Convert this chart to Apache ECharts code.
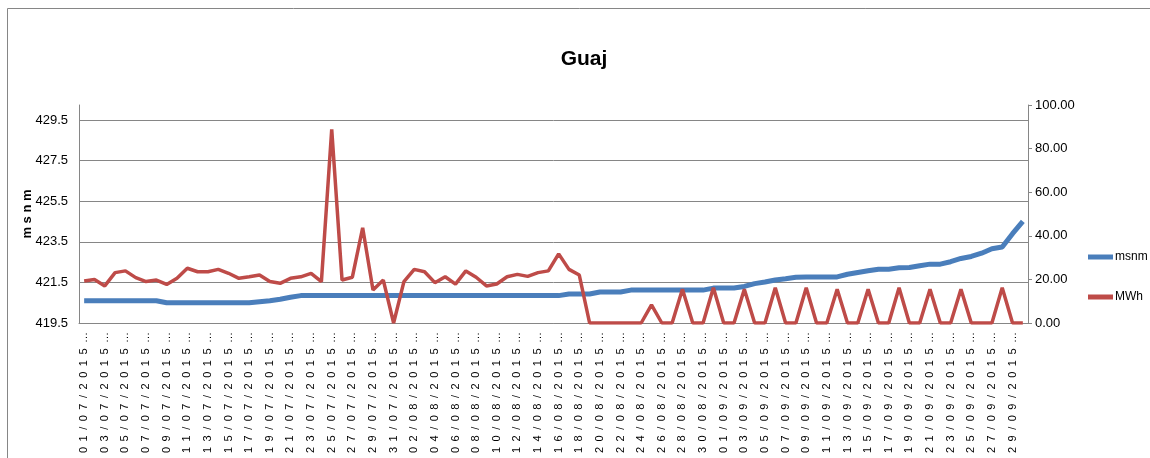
<!DOCTYPE html>
<html>
<head>
<meta charset="utf-8">
<script src="https://cdn.jsdelivr.net/npm/echarts@6/dist/echarts.min.js"></script>
<style>
html,body{margin:0;padding:0;background:#fff;}
#chart{width:1150px;height:458px;}
</style>
</head>
<body>
<div id="chart"></div>
<script>
// ---- data ----
const titleText = 'Guaj';
const seriesNames = ['msnm', 'MWh'];

function buildDates() {
  const out = [];
  const months = [[7, 31], [8, 31], [9, 30]];
  for (const [m, n] of months) {
    for (let d = 1; d <= n; d++) {
      out.push(String(d).padStart(2, '0') + '/' + String(m).padStart(2, '0') + '/2015');
    }
  }
  return out;
}
const categories = buildDates();

const msnm = [
  420.6, 420.6, 420.6, 420.6, 420.6, 420.6, 420.6, 420.6,
  420.5, 420.5, 420.5, 420.5, 420.5, 420.5, 420.5, 420.5, 420.5,
  420.55, 420.6, 420.67, 420.77,
  420.85, 420.85, 420.85, 420.85, 420.85, 420.85, 420.85, 420.85, 420.85, 420.85,
  420.85, 420.85, 420.85, 420.85, 420.85, 420.85, 420.85, 420.85, 420.85, 420.85,
  420.85, 420.85, 420.85, 420.85, 420.85, 420.85,
  420.93, 420.93, 420.93,
  421.03, 421.03, 421.03,
  421.12, 421.12, 421.12, 421.12, 421.12, 421.12, 421.12, 421.12,
  421.22, 421.22, 421.22,
  421.3, 421.44, 421.52, 421.62, 421.68, 421.75,
  421.77, 421.77, 421.77, 421.77,
  421.9, 421.99, 422.07, 422.15, 422.15, 422.22, 422.23, 422.32, 422.4, 422.4,
  422.52, 422.68, 422.78, 422.94, 423.16, 423.24, 423.9, 424.51
];

const mwh = [
  19.3, 20.0, 17.0, 23.1, 23.9, 20.8, 19.0, 19.7, 17.7, 20.5,
  25.1, 23.5, 23.5, 24.6, 22.8, 20.5, 21.2, 22.0, 19.0, 18.2,
  20.5, 21.2, 22.8, 19.0, 88.8, 19.7, 21.0, 43.7, 15.1, 19.7,
  0, 19.0, 24.6, 23.5, 18.5, 21.2, 17.8, 23.9, 21.0, 17.0,
  17.9, 21.2, 22.3, 21.4, 23.1, 23.9, 31.7, 24.6, 22.0, 0,
  0, 0, 0, 0, 0, 8.3, 0, 0, 15.5, 0,
  0, 16.2, 0, 0, 15.5, 0, 0, 16.2, 0, 0,
  16.2, 0, 0, 15.5, 0, 0, 15.5, 0, 0, 16.2,
  0, 0, 15.5, 0, 0, 15.5, 0, 0, 0, 16.2,
  0, 0
];

const leftTicks = [419.5, 421.5, 423.5, 425.5, 427.5, 429.5];
const leftMin = 419.5, leftMax = 430.24;
const rightMin = 0, rightMax = 100;

// ---- chart ----
const GRID = '#868686';
const FONT = '"Liberation Sans", Arial, sans-serif';
const chart = echarts.init(document.getElementById('chart'), null, {renderer: 'canvas'});

const option = {
  animation: false,
  backgroundColor: '#fff',
  title: {
    text: titleText,
    left: 579, top: 44, textAlign: 'center',
    textStyle: {fontFamily: FONT, fontWeight: 'bold', fontSize: 21, color: '#000'}
  },
  graphic: [{
    type: 'rect', silent: true,
    shape: {x: 7.5, y: 8.5, width: 1400, height: 700},
    style: {fill: 'none', stroke: GRID, lineWidth: 1}
  }],
  legend: {
    orient: 'vertical',
    left: 1083, top: 246,
    itemWidth: 25, itemHeight: 5, itemGap: 28,
    icon: 'rect',
    textStyle: {fontFamily: FONT, fontSize: 12, color: '#000', padding: [0, 0, 0, -3]},
    data: seriesNames
  },
  grid: {left: 79, right: 122, top: 105, bottom: 135, containLabel: false},
  xAxis: {
    type: 'category',
    data: categories,
    boundaryGap: true,
    axisLine: {onZero: false, lineStyle: {color: GRID, width: 1}},
    axisTick: {show: false},
    axisLabel: {
      interval: 1,
      rotate: 90,
      margin: 9,
      fontFamily: FONT,
      fontSize: 11,
      color: '#000',
      formatter: v => v.split('').join('\u2002') + '\u2002…'
    },
    splitLine: {show: false}
  },
  yAxis: [{
    type: 'value',
    min: leftMin, max: leftMax, interval: 2,
    name: 'm s n m',
    nameLocation: 'middle',
    nameRotate: 90,
    nameGap: 45,
    nameMoveOverlap: false,
    nameTextStyle: {fontFamily: FONT, fontWeight: 'bold', fontSize: 13, color: '#000'},
    axisLine: {show: true, lineStyle: {color: GRID, width: 1}},
    axisTick: {show: false},
    splitLine: {show: false},
    axisLabel: {
      margin: 11,
      fontFamily: FONT, fontSize: 13, color: '#000',
      formatter: v => {
        const k = (v - leftMin) / 2;
        return Math.abs(k - Math.round(k)) < 1e-6 ? v.toFixed(1) : '';
      }
    }
  }, {
    type: 'value',
    position: 'right',
    min: rightMin, max: rightMax, interval: 20,
    axisLine: {show: true, lineStyle: {color: GRID, width: 1}},
    axisTick: {show: true, inside: false, length: 4, lineStyle: {color: GRID}},
    splitLine: {show: false},
    axisLabel: {
      margin: 7,
      fontFamily: FONT, fontSize: 13, color: '#000',
      formatter: v => v.toFixed(2)
    }
  }],
  series: [{
    name: seriesNames[0],
    type: 'line',
    yAxisIndex: 0,
    data: msnm,
    showSymbol: false,
    symbol: 'none',
    lineStyle: {color: '#4A7EBB', width: 5},
    itemStyle: {color: '#4A7EBB'},
    emphasis: {disabled: true},
    z: 3,
    markLine: {
      silent: true,
      z: 1,
      animation: false,
      symbol: ['none', 'none'],
      label: {show: false},
      emphasis: {disabled: true},
      lineStyle: {color: GRID, width: 1, type: 'solid'},
      data: leftTicks.map(v => ({yAxis: v}))
    }
  }, {
    name: seriesNames[1],
    type: 'line',
    yAxisIndex: 1,
    data: mwh,
    showSymbol: false,
    symbol: 'none',
    lineStyle: {color: '#BE4B48', width: 3.5},
    itemStyle: {color: '#BE4B48'},
    emphasis: {disabled: true},
    z: 4
  }]
};
chart.setOption(option);
</script>
</body>
</html>
